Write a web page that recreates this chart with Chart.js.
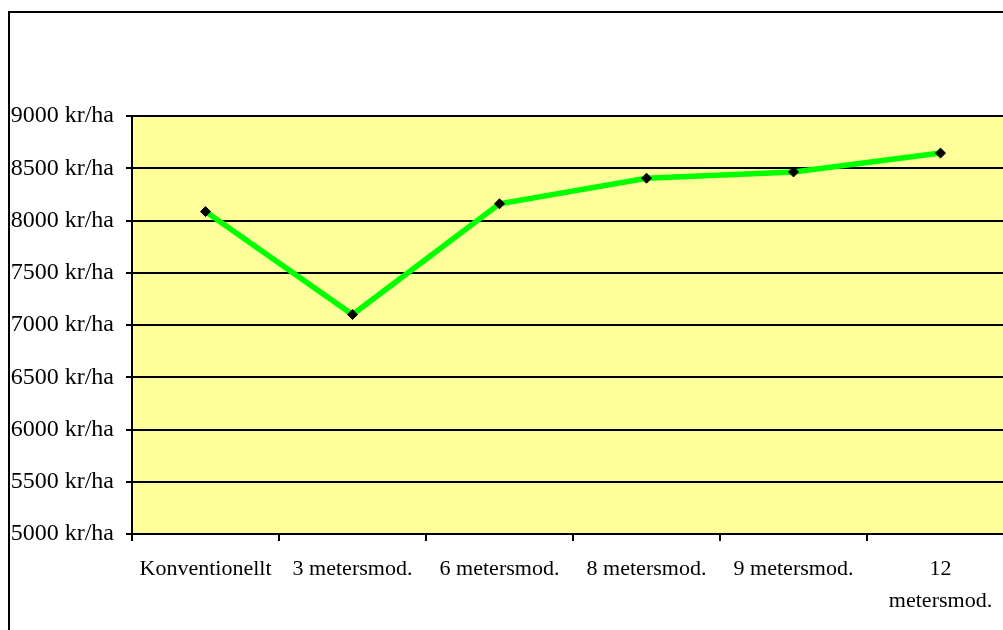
<!DOCTYPE html>
<html>
<head>
<meta charset="utf-8">
<script src="https://cdn.jsdelivr.net/npm/chart.js@4/dist/chart.umd.min.js"></script>
<style>
  html, body { margin: 0; padding: 0; background: #fff; overflow: hidden; }
  #wrap { position: absolute; left: 0; top: 0; width: 1030px; height: 640px; }
</style>
</head>
<body>
<div id="wrap"><canvas id="costChart" width="1030" height="640"></canvas></div>
<script>
/* Kostnad per hektar för olika maskinsystem */

const CATEGORIES = [
  "Konventionellt",
  "3 metersmod.",
  "6 metersmod.",
  "8 metersmod.",
  "9 metersmod.",
  ["12", "metersmod."],
];
const COST_PER_HA = [8085, 7100, 8160, 8405, 8465, 8645];
const Y_MIN = 5000;
const Y_MAX = 9000;
const Y_STEP = 500;
const Y_UNIT = " kr/ha";

const FONT = "'Liberation Serif', 'Times New Roman', serif";

// Pale yellow plot area plus the thin frame around the whole chart
const chartFrame = {
  id: "chartFrame",
  beforeDraw(chart) {
    const { ctx, chartArea: a } = chart;
    ctx.save();
    ctx.fillStyle = "#ffff99";
    ctx.fillRect(a.left, a.top, a.right - a.left, a.bottom - a.top);
    ctx.restore();
  },
  afterDraw(chart) {
    const ctx = chart.ctx;
    ctx.save();
    ctx.strokeStyle = "#000";
    ctx.lineWidth = 2;
    ctx.strokeRect(9, 12, 1200, 800);
    ctx.restore();
  },
};

function initCostChart() {
  const ctx = document.getElementById("costChart");
  if (!ctx) return;

  new Chart(ctx, {
    type: "line",
    data: {
      labels: CATEGORIES,
      datasets: [
        {
          data: COST_PER_HA,
          borderColor: "#00ff00",
          borderWidth: 5.5,
          tension: 0,
          fill: false,
          pointStyle: "rectRot",
          pointRadius: 5,
          pointBackgroundColor: "#000",
          pointBorderColor: "#000",
          pointBorderWidth: 1,
        },
      ],
    },
    options: {
      responsive: false,
      animation: false,
      layout: { padding: { left: 0, top: 116, right: 16, bottom: 0 } },
      plugins: { legend: { display: false }, tooltip: { enabled: false } },
      scales: {
        x: {
          offset: true,
          grid: {
            offset: true,
            drawOnChartArea: false,
            drawTicks: true,
            tickLength: 7,
            color: "#000",
            lineWidth: 2,
          },
          border: { color: "#000", width: 2 },
          ticks: {
            color: "#000",
            autoSkip: false,
            maxRotation: 0,
            padding: 13,
            font: { family: FONT, size: 22, lineHeight: 1.42 },
          },
          afterFit: (s) => { s.height = 106; },
        },
        y: {
          min: Y_MIN,
          max: Y_MAX,
          grid: {
            color: "#000",
            lineWidth: 2,
            tickLength: 6,
          },
          border: { color: "#000", width: 2 },
          ticks: {
            stepSize: Y_STEP,
            color: "#000",
            padding: 12,
            font: { family: FONT, size: 24 },
            callback: (v) => v + Y_UNIT,
          },
          afterFit: (s) => { s.width = 132; },
        },
      },
    },
    plugins: [chartFrame],
  });
}

initCostChart();
</script>
</body>
</html>
